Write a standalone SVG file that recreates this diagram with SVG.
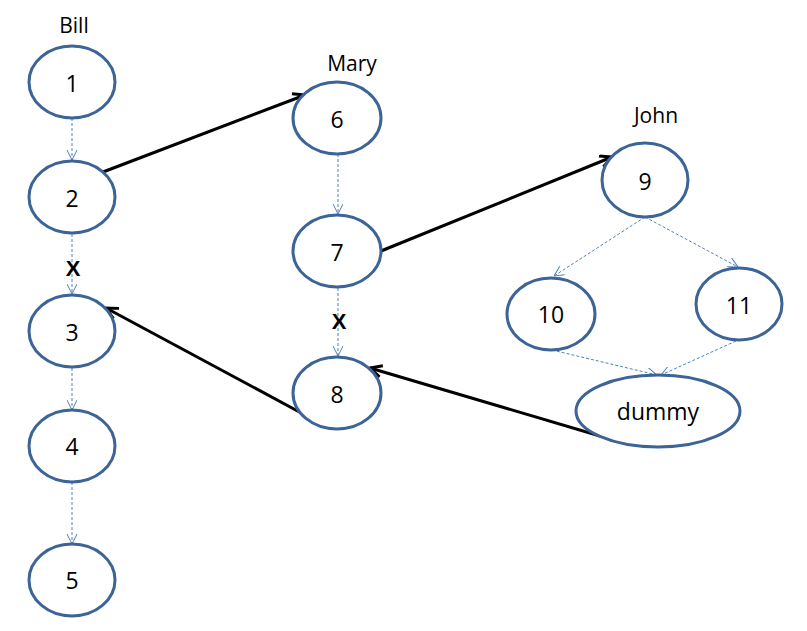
<svg xmlns="http://www.w3.org/2000/svg" width="807" height="631" viewBox="0 0 807 631">
<defs>
<style>
.n{fill:#fff;stroke:#3c6496;stroke-width:3}
.t{font-family:"Open Sans","Liberation Sans",sans-serif;font-size:23px;fill:#000;text-anchor:middle;dominant-baseline:central}
.lb{font-family:"Open Sans","Liberation Sans",sans-serif;font-size:21px;fill:#000;text-anchor:middle}
.x{font-family:"Liberation Sans",sans-serif;font-size:22px;font-weight:bold;fill:#000;text-anchor:middle}
.d{stroke:#4f81bd;stroke-width:1;stroke-dasharray:3,2;fill:none;marker-end:url(#ad)}
.s{stroke:#000;stroke-width:3;fill:none;marker-end:url(#as)}
</style>
<marker id="ad" viewBox="0 0 10 10" refX="10" refY="5" markerWidth="10" markerHeight="10" markerUnits="userSpaceOnUse" orient="auto">
<path d="M0,0 L10,5 L0,10" fill="none" stroke="#4f81bd" stroke-width="1"/>
</marker>
<marker id="as" viewBox="0 0 12 12" refX="11" refY="6" markerWidth="14" markerHeight="14" markerUnits="userSpaceOnUse" orient="auto">
<path d="M1,1 L11,6 L1,11" fill="none" stroke="#000" stroke-width="2.5"/>
</marker>
</defs>
<rect width="807" height="631" fill="#fff"/>
<text class="lb" x="74" y="33">Bill</text>
<text class="lb" x="352" y="71">Mary</text>
<text class="lb" x="656" y="123">John</text>
<g id="connectors">
<path class="d" d="M72,118 L72,160"/>
<path class="d" d="M72,234 L72,294"/>
<path class="d" d="M72,368 L72,410"/>
<path class="d" d="M72,482 L72,544"/>
<path class="d" d="M338,154 L338,214"/>
<path class="d" d="M338,288 L338,356"/>
<path class="d" d="M645,217 L554,276"/>
<path class="d" d="M645,217 L738,267"/>
<path class="d" d="M552,350 L657,375"/>
<path class="d" d="M736,341 L661,375"/>
<path class="s" d="M103,172 L305,95"/>
<path class="s" d="M381,251 L612,157"/>
<path class="s" d="M305,415 L106,308"/>
<path class="s" d="M600,436 L370,368"/>
<text class="x" x="73" y="276">X</text>
<text class="x" x="339" y="329">X</text>
</g>
<g id="n1"><ellipse class="n" cx="72" cy="82" rx="43" ry="36"/><text class="t" x="72" y="83">1</text></g>
<g id="n2"><ellipse class="n" cx="72" cy="197" rx="43" ry="36"/><text class="t" x="72" y="198">2</text></g>
<g id="n3"><ellipse class="n" cx="72" cy="331" rx="43" ry="36"/><text class="t" x="72" y="332">3</text></g>
<g id="n4"><ellipse class="n" cx="72" cy="446" rx="43" ry="36"/><text class="t" x="72" y="446">4</text></g>
<g id="n5"><ellipse class="n" cx="72" cy="580" rx="43" ry="36"/><text class="t" x="72" y="580">5</text></g>
<g id="n6"><ellipse class="n" cx="337" cy="118" rx="44" ry="36"/><text class="t" x="337" y="119">6</text></g>
<g id="n7"><ellipse class="n" cx="337" cy="251" rx="44" ry="36"/><text class="t" x="337" y="252">7</text></g>
<g id="n8"><ellipse class="n" cx="337" cy="393" rx="44" ry="36"/><text class="t" x="337" y="394">8</text></g>
<g id="n9"><ellipse class="n" cx="645" cy="180" rx="43" ry="37"/><text class="t" x="645" y="181">9</text></g>
<g id="n10"><ellipse class="n" cx="551" cy="314" rx="44" ry="36"/><text class="t" x="551" y="314">10</text></g>
<g id="n11"><ellipse class="n" cx="739" cy="304" rx="43" ry="36"/><text class="t" x="739" y="305">11</text></g>
<g id="dummy"><ellipse class="n" cx="658" cy="411" rx="82" ry="36"/><text class="t" x="658" y="411">dummy</text></g>
</svg>
